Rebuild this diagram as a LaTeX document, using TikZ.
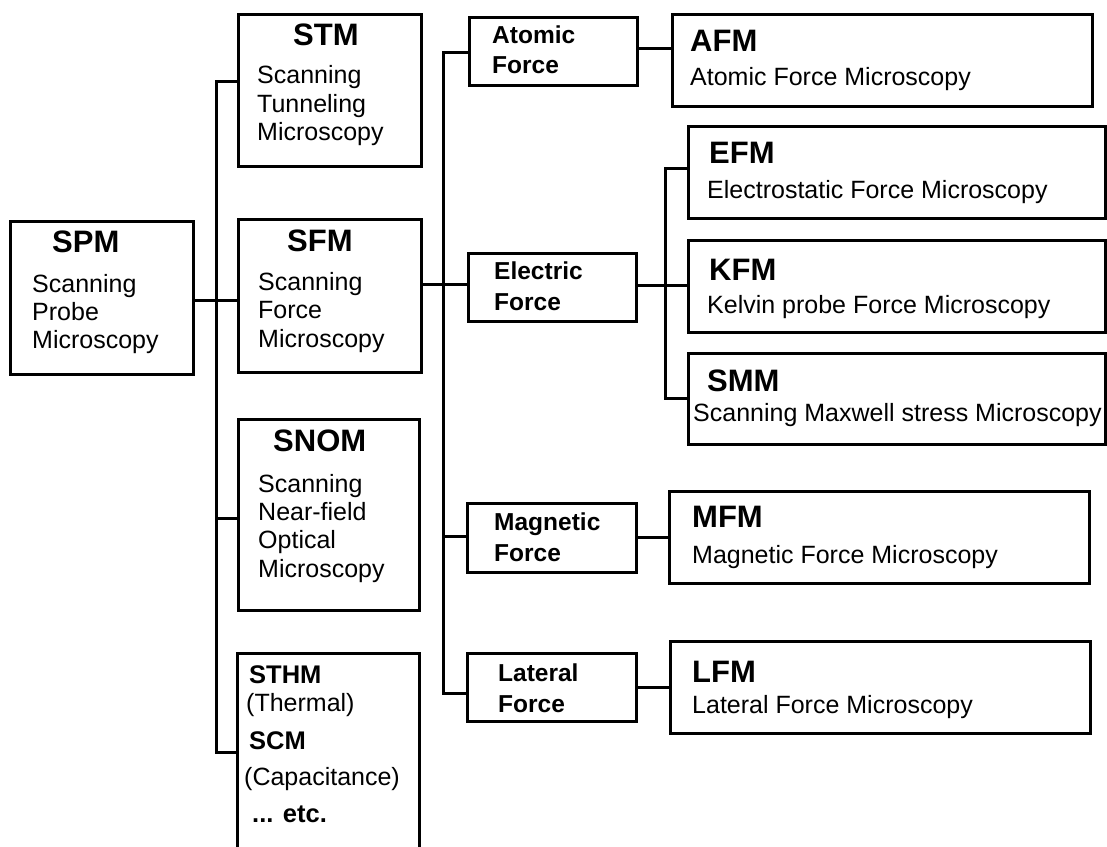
\documentclass[tikz,border=0pt]{standalone}
\usepackage{fontspec}
\setmainfont{Liberation Sans}
% box by its corners: name, x1, y1, x2, y2
\newcommand\edgebox[5]{%
  \node[box, minimum width={(#4-#2)*1pt}, minimum height={(#5-#3)*1pt}]
    (#1) at ({(#2+#4)/2},{(#3+#5)/2}) {};}
\begin{document}
\begin{tikzpicture}[x=1pt,y=-1pt,
  box/.style={draw, line width=3pt, inner sep=0pt, outer sep=0pt, rectangle},
  conn/.style={line width=3pt},
  ttl/.style={anchor=base west, inner sep=0pt, font=\fontsize{31}{31}\selectfont\bfseries},
  txt/.style={anchor=base west, inner sep=0pt, font=\fontsize{25}{25}\selectfont},
  lbl/.style={anchor=base west, inner sep=0pt, font=\fontsize{24.5}{24.5}\selectfont\bfseries},
  sml/.style={anchor=base west, inner sep=0pt, font=\fontsize{25.5}{25.5}\selectfont\bfseries}]
\useasboundingbox[fill=white] (0,0) rectangle (1107,846);

% boxes
\edgebox{spm}{10}{221}{193}{374}
\edgebox{stm}{238}{14}{421}{166}
\edgebox{sfm}{238}{219}{421}{372}
\edgebox{snom}{238}{419}{419}{610}
\edgebox{misc}{237}{653}{419}{870}
\edgebox{atomic}{469}{17}{637}{85}
\edgebox{electric}{468}{253}{636}{321}
\edgebox{magnetic}{467}{503}{636}{572}
\edgebox{lateral}{467}{653}{636}{721}
\edgebox{afm}{672}{14}{1092}{106}
\edgebox{efm}{688}{126}{1105}{218}
\edgebox{kfm}{688}{240}{1105}{332}
\edgebox{smm}{688}{353}{1105}{444}
\edgebox{mfm}{669}{491}{1089}{583}
\edgebox{lfm}{670}{641}{1090}{733}

% trunks
\coordinate (trA) at (216,0);
\coordinate (trB) at (443,0);
\coordinate (trC) at (665,0);

% connectors
\draw[conn] (spm.east |- 0,300) -- (sfm.west |- 0,300);
\draw[conn] (stm.west |- 0,81) -- (trA |- 0,81) -- (trA |- 0,752) -- (misc.west |- 0,752);
\draw[conn] (snom.west |- 0,518) -- (trA |- 0,518);
\draw[conn] (sfm.east |- 0,284) -- (electric.west |- 0,284);
\draw[conn] (atomic.west |- 0,52) -- (trB |- 0,52) -- (trB |- 0,693) -- (lateral.west |- 0,693);
\draw[conn] (magnetic.west |- 0,536) -- (trB |- 0,536);
\draw[conn] (atomic.east |- 0,48) -- (afm.west |- 0,48);
\draw[conn] (electric.east |- 0,285) -- (kfm.west |- 0,285);
\draw[conn] (efm.west |- 0,168) -- (trC |- 0,168) -- (trC |- 0,398) -- (smm.west |- 0,398);
\draw[conn] (magnetic.east |- 0,537) -- (mfm.west |- 0,537);
\draw[conn] (lateral.east |- 0,687) -- (lfm.west |- 0,687);

% SPM
\node[ttl] (spmT) at (52,252) {SPM};
\node[txt] (spm1) at (32,292) {Scanning};
\node[txt] (spm2) at (32,320) {Probe};
\node[txt] (spm3) at (32,348) {Microscopy};
% STM
\node[ttl] (stmT) at (293,45) {STM};
\node[txt] (stm1) at (257,83) {Scanning};
\node[txt] (stm2) at (257,112) {Tunneling};
\node[txt] (stm3) at (257,140) {Microscopy};
% SFM
\node[ttl] (sfmT) at (287,251) {SFM};
\node[txt] (sfm1) at (258,290) {Scanning};
\node[txt] (sfm2) at (258,318) {Force};
\node[txt] (sfm3) at (258,347) {Microscopy};
% SNOM
\node[ttl] (snomT) at (273,451) {SNOM};
\node[txt] (snom1) at (258,492) {Scanning};
\node[txt] (snom2) at (258,520) {Near-field};
\node[txt] (snom3) at (258,548) {Optical};
\node[txt] (snom4) at (258,577) {Microscopy};
% other methods
\node[sml] (m1) at (249,683) {STHM};
\node[txt] (m2) at (246,711) {(Thermal)};
\node[sml] (m3) at (249,749) {SCM};
\node[txt] (m4) at (244,785) {(Capacitance)};
\node[sml] (m5) at (252,822) {... etc.};

% force types
\node[lbl] (at1) at (492,43) {Atomic};
\node[lbl] (at2) at (492,73) {Force};
\node[lbl] (el1) at (494,279) {Electric};
\node[lbl] (el2) at (494,310) {Force};
\node[lbl] (mg1) at (494,530) {Magnetic};
\node[lbl] (mg2) at (494,561) {Force};
\node[lbl] (lt1) at (498,681) {Lateral};
\node[lbl] (lt2) at (498,712) {Force};

% microscopy modes
\node[ttl] (afmT) at (690,51) {AFM};
\node[txt] (afm1) at (690,85) {Atomic Force Microscopy};
\node[ttl] (efmT) at (709,163) {EFM};
\node[txt] (efm1) at (707,198) {Electrostatic Force Microscopy};
\node[ttl] (kfmT) at (709,280) {KFM};
\node[txt] (kfm1) at (707,313) {Kelvin probe Force Microscopy};
\node[ttl] (smmT) at (707,391) {SMM};
\node[txt] (smm1) at (693,421) {Scanning Maxwell stress Microscopy};
\node[ttl] (mfmT) at (692,527) {MFM};
\node[txt] (mfm1) at (692,563) {Magnetic Force Microscopy};
\node[ttl] (lfmT) at (692,682) {LFM};
\node[txt] (lfm1) at (692,713) {Lateral Force Microscopy};
\end{tikzpicture}
\end{document}
